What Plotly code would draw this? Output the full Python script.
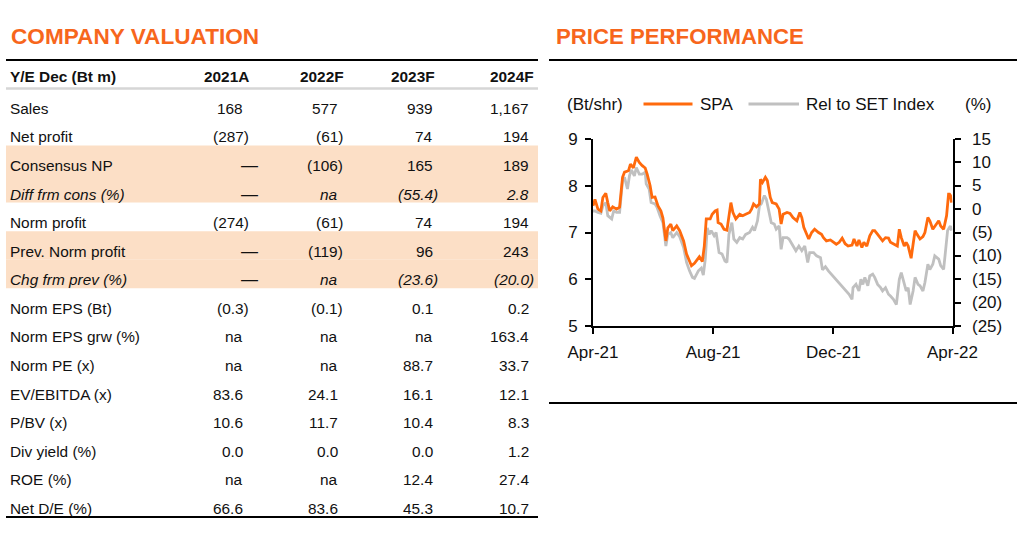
import pandas as pd
import plotly.graph_objects as go

W, H = 1024, 540
FONT = "Liberation Sans, Arial, sans-serif"
ORANGE = "#FF6A0D"
TITLE_ORANGE = "#F7661C"
GRAY = "#C0C0C0"
PEACH = "#FCDFC6"
INK = "#111111"

# ---------------- table data ----------------
years = ["2021A", "2022F", "2023F", "2024F"]
row_labels = ["Sales", "Net profit", "Consensus NP", "Diff frm cons (%)", "Norm profit",
              "Prev. Norm profit", "Chg frm prev (%)", "Norm EPS (Bt)", "Norm EPS grw (%)",
              "Norm PE (x)", "EV/EBITDA (x)", "P/BV (x)", "Div yield (%)", "ROE (%)", "Net D/E (%)"]
col_2021A = ["168", "(287)", "—", "—", "(274)", "—", "—", "(0.3)", "na", "na", "83.6", "10.6", "0.0", "na", "66.6"]
col_2022F = ["577", "(61)", "(106)", "na", "(61)", "(119)", "na", "(0.1)", "na", "na", "24.1", "11.7", "0.0", "na", "83.6"]
col_2023F = ["939", "74", "165", "(55.4)", "74", "96", "(23.6)", "0.1", "na", "88.7", "16.1", "10.4", "0.0", "12.4", "45.3"]
col_2024F = ["1,167", "194", "189", "2.8", "194", "243", "(20.0)", "0.2", "163.4", "33.7", "12.1", "8.3", "1.2", "27.4", "10.7"]
italic_rows = ["Diff frm cons (%)", "Chg frm prev (%)"]
shaded_rows = ["Consensus NP", "Diff frm cons (%)", "Prev. Norm profit", "Chg frm prev (%)"]

# ---------------- price chart data ----------------
spa_day = [0, 2, 5, 8, 10, 13, 15, 17, 20, 24, 27, 30, 32, 36, 38, 41, 44, 47, 50, 53, 55, 58, 60, 63, 66,
           69, 71, 74, 76, 79, 81, 85, 88, 92, 95, 97, 100, 103, 106, 108, 111, 113, 115, 119, 121, 124,
           126, 127, 130, 133, 136, 138, 140, 142, 145, 149, 152, 155, 159, 161, 163, 166, 169, 170, 172,
           175, 177, 180, 182, 186, 189, 191, 193, 197, 200, 203, 207, 210, 212, 214, 217, 219, 222, 225,
           229, 232, 234, 237, 241, 244, 247, 250, 253, 256, 259, 263, 265, 268, 270, 273, 275, 278, 281,
           284, 286, 289, 291, 294, 297, 300, 302, 306, 309, 311, 313, 316, 318, 320, 323, 325, 327, 329,
           332, 335, 337, 340, 342, 345, 347, 351, 353, 356, 359, 361, 362, 363, 364]
spa_price = [7.57, 7.71, 7.50, 7.46, 7.75, 7.84, 7.64, 7.46, 7.55, 7.50, 7.54, 8.18, 8.29, 8.32, 8.46, 8.38,
             8.61, 8.50, 8.43, 8.38, 8.25, 8.00, 7.75, 7.76, 7.57, 7.46, 7.31, 6.82, 7.10, 7.18, 7.04, 7.14,
             7.04, 6.82, 6.54, 6.43, 6.29, 6.34, 6.43, 6.48, 6.38, 6.71, 7.29, 7.29, 7.39, 7.46, 7.48, 7.21,
             7.18, 7.07, 7.05, 7.32, 7.64, 7.43, 7.29, 7.39, 7.36, 7.39, 7.43, 7.50, 7.61, 7.55, 7.61, 8.14,
             8.07, 8.18, 8.11, 7.75, 7.64, 7.61, 7.50, 7.18, 7.39, 7.43, 7.41, 7.32, 7.25, 7.43, 7.32, 7.11,
             6.96, 6.86, 7.00, 7.07, 7.00, 6.96, 6.89, 6.82, 6.84, 6.79, 6.75, 6.79, 6.88, 6.76, 6.71, 6.73,
             6.86, 6.71, 6.84, 6.68, 6.79, 6.71, 6.93, 7.04, 7.04, 6.96, 6.91, 6.82, 6.89, 6.88, 6.79, 6.75,
             6.71, 7.07, 6.89, 6.71, 6.79, 6.71, 6.45, 6.75, 7.04, 6.96, 6.86, 6.91, 7.00, 7.32, 7.25, 7.07,
             7.14, 7.25, 7.14, 7.07, 7.36, 7.82, 7.82, 7.79, 7.64]
rel_day = [0, 2, 5, 8, 10, 13, 15, 19, 21, 24, 27, 30, 32, 35, 37, 39, 42, 44, 47, 50, 53, 54, 57, 59, 63,
           65, 68, 71, 74, 76, 79, 81, 85, 88, 92, 95, 98, 101, 103, 107, 110, 112, 114, 116, 118, 120,
           123, 125, 128, 131, 134, 136, 138, 141, 143, 146, 149, 152, 155, 159, 162, 164, 167, 169, 171,
           174, 176, 179, 181, 184, 186, 189, 191, 193, 197, 199, 203, 206, 209, 212, 215, 218, 220, 224,
           227, 231, 233, 236, 239, 242, 246, 249, 251, 254, 257, 260, 263, 264, 267, 270, 272, 274, 276,
           279, 281, 284, 286, 289, 292, 294, 297, 300, 302, 305, 308, 311, 313, 316, 318, 320, 322, 325,
           327, 330, 332, 335, 337, 340, 342, 345, 347, 351, 353, 356, 358, 360, 362, 363, 364]
rel_pct = [-0.4, -0.4, -0.7, -0.9, 0.7, 1.4, -1.4, -2.1, -0.4, -0.7, -0.7, 6.1, 6.8, 4.3, 7.1, 8.4, 7.1,
           8.9, 7.5, 7.5, 7.9, 5.4, 4.3, 1.4, 1.1, 0.4, -1.4, -2.9, -7.9, -5.4, -5.0, -6.1, -5.0, -5.9, -8.2,
           -11.4, -13.2, -14.6, -14.8, -13.2, -12.6, -14.1, -10.7, -4.0, -5.4, -4.6, -5.7, -5.0, -9.3, -9.6,
           -11.1, -11.4, -5.4, -2.9, -6.4, -7.1, -6.1, -6.4, -5.4, -5.0, -3.9, -4.6, -2.5, 0.7, 1.2, 2.9,
           2.1, -1.4, -2.9, -3.2, -4.3, -3.6, -8.6, -6.1, -6.1, -6.4, -7.9, -8.9, -7.9, -8.9, -7.9, -11.4,
           -9.3, -9.3, -10.0, -10.4, -13.0, -12.3, -13.2, -13.9, -15.0, -15.7, -16.1, -16.8, -17.5, -18.2,
           -19.3, -16.8, -16.1, -17.5, -15.0, -16.1, -14.6, -16.4, -14.3, -13.9, -14.6, -16.1, -16.8, -17.5,
           -16.8, -18.2, -18.6, -19.3, -20.4, -15.0, -13.6, -15.7, -17.5, -16.8, -20.4, -17.5, -14.6, -16.1,
           -16.4, -17.5, -15.7, -11.8, -12.9, -11.8, -10.0, -10.7, -12.1, -12.9, -8.9, -4.6, -3.9, -3.6, -4.6]
start_date = "2021-04-01"
x_tick_dates = ["2021-04-01", "2021-08-01", "2021-12-01", "2022-04-01"]
x_tick_text = ["Apr-21", "Aug-21", "Dec-21", "Apr-22"]
price_ticks = [5, 6, 7, 8, 9]
rel_ticks = [-25, -20, -15, -10, -5, 0, 5, 10, 15]
rel_tick_text = ["(25)", "(20)", "(15)", "(10)", "(5)", "0", "5", "10", "15"]

base = pd.Timestamp(start_date)
spa_dates = [base + pd.Timedelta(days=d) for d in spa_day]
rel_dates = [base + pd.Timedelta(days=d) for d in rel_day]


def px(x):
    return x / W


def py(y):
    return 1 - y / H


fig = go.Figure()
# relative line on primary (right, %) axis; SPA on overlaying left axis so it draws on top
fig.add_trace(go.Scatter(x=rel_dates, y=rel_pct, mode="lines", name="Rel to SET Index",
                         line=dict(color=GRAY, width=2.8), xaxis="x", yaxis="y", showlegend=False,
                         hoverinfo="skip"))
fig.add_trace(go.Scatter(x=spa_dates, y=spa_price, mode="lines", name="SPA",
                         line=dict(color=ORANGE, width=2.8), xaxis="x", yaxis="y2", showlegend=False,
                         hoverinfo="skip"))

PLOT_L, PLOT_R, PLOT_T, PLOT_B = 593, 952.5, 139, 326
tickfont = dict(family=FONT, size=17, color=INK)
fig.update_layout(
    template="none",
    width=W, height=H, margin=dict(l=0, r=0, t=0, b=0, pad=0, autoexpand=False),
    paper_bgcolor="white", plot_bgcolor="rgba(0,0,0,0)",
    showlegend=False,
    font=dict(family=FONT, color=INK),
    xaxis=dict(domain=[px(PLOT_L), px(PLOT_R)], type="date", range=[x_tick_dates[0], x_tick_dates[-1]],
               tickvals=x_tick_dates, ticktext=x_tick_text, ticks="outside", ticklen=6, tickwidth=2,
               tickcolor="black", showline=True, linecolor="black", linewidth=2, showgrid=False,
               zeroline=False, tickfont=tickfont, anchor="y", ticklabelstandoff=4, automargin=False),
    yaxis=dict(domain=[py(PLOT_B), py(PLOT_T)], range=[rel_ticks[0], rel_ticks[-1]], side="right",
               tickvals=rel_ticks, ticks="outside", ticklen=6, tickwidth=2, showticklabels=False,
               tickcolor="black", showline=True, linecolor="black", linewidth=2, showgrid=False,
               zeroline=False, anchor="x", automargin=False),
    yaxis2=dict(domain=[py(PLOT_B), py(PLOT_T)], range=[price_ticks[0], price_ticks[-1]], side="left",
                overlaying="y", tickvals=price_ticks, ticks="outside", ticklen=6, tickwidth=2,
                tickcolor="black", showline=True, linecolor="black", linewidth=2, showgrid=False,
                zeroline=False, tickfont=tickfont, anchor="x", ticklabelstandoff=4, automargin=False),
)

shapes = []
annotations = []


def hline(x0, x1, y, color="black", width=2):
    shapes.append(dict(type="line", xref="paper", yref="paper", x0=px(x0), x1=px(x1), y0=py(y), y1=py(y),
                       line=dict(color=color, width=width)))


def text(x, y, s, size=15.4, anchor="left", bold=False, italic=False, color=INK):
    if bold:
        s = "<b>" + s + "</b>"
    if italic:
        s = "<i>" + s + "</i>"
    annotations.append(dict(x=px(x), y=py(y), xref="paper", yref="paper", text=s, showarrow=False,
                            xanchor=anchor, yanchor="middle", font=dict(family=FONT, size=size, color=color)))


# right-axis tick labels, left-aligned, positioned through the % axis scale
for v, t in zip(rel_ticks, rel_tick_text):
    annotations.append(dict(x=px(969.5), y=v, xref="paper", yref="y", text=t, showarrow=False,
                            xanchor="left", yanchor="middle", font=tickfont))

# ---------- COMPANY VALUATION ----------
text(8.5, 36.5, "COMPANY VALUATION", size=22.6, bold=True, color=TITLE_ORANGE)
TBL_L, TBL_R = 6, 538
ROW0, ROW_H = 108.3, 28.57
# shaded bands
for i, lab in enumerate(row_labels):
    if lab in shaded_rows:
        yc = ROW0 + i * ROW_H
        shapes.append(dict(type="rect", xref="paper", yref="paper", x0=px(TBL_L), x1=px(TBL_R),
                           y0=py(yc - 20.0), y1=py(yc + 8.6), fillcolor=PEACH, line=dict(width=0),
                           layer="below"))
hline(TBL_L, TBL_R, 60, width=2)
hline(TBL_L, TBL_R, 88.5, color="#D6D6D6", width=2.5)
hline(TBL_L, TBL_R, 517, width=2)

num_right = [245.3, 340.2, 435.2, 530.6]
head_right = [250.5, 345.5, 436.5, 536.0]
text(8.3, 76.7, "Y/E Dec (Bt m)", bold=True)
for j, yr in enumerate(years):
    text(head_right[j], 76.7, yr, anchor="right", bold=True)

cols = [col_2021A, col_2022F, col_2023F, col_2024F]
for i, lab in enumerate(row_labels):
    yc = ROW0 + i * ROW_H
    it = lab in italic_rows
    text(8.3, yc, lab, italic=it)
    for j, col in enumerate(cols):
        v = col[i]
        if v == "—":
            text(num_right[j] + 4.5, yc, v, anchor="center", size=17)
        elif v.startswith("("):
            text(num_right[j] + 5.2, yc, v, anchor="right", italic=it)
        else:
            text(num_right[j], yc, v, anchor="right", italic=it)

# ---------- PRICE PERFORMANCE ----------
text(553.5, 36.5, "PRICE PERFORMANCE", size=22.2, bold=True, color=TITLE_ORANGE)
hline(549, 1017, 60, width=2)
hline(549, 1017, 403, width=2)
LEG_Y = 104
text(564.5, LEG_Y, "(Bt/shr)", size=17)
hline(643.5, 692.5, LEG_Y, color=ORANGE, width=3)
text(698, LEG_Y, "SPA", size=17)
hline(748.5, 799, LEG_Y, color=GRAY, width=3)
text(804, LEG_Y, "Rel to SET Index", size=17)
text(963, LEG_Y, "(%)", size=17)

fig.update_layout(shapes=shapes, annotations=annotations)

fig.write_html("out.html", config={"displayModeBar": False},
               post_script="document.body.style.margin='0px';document.body.style.overflow='hidden';")
